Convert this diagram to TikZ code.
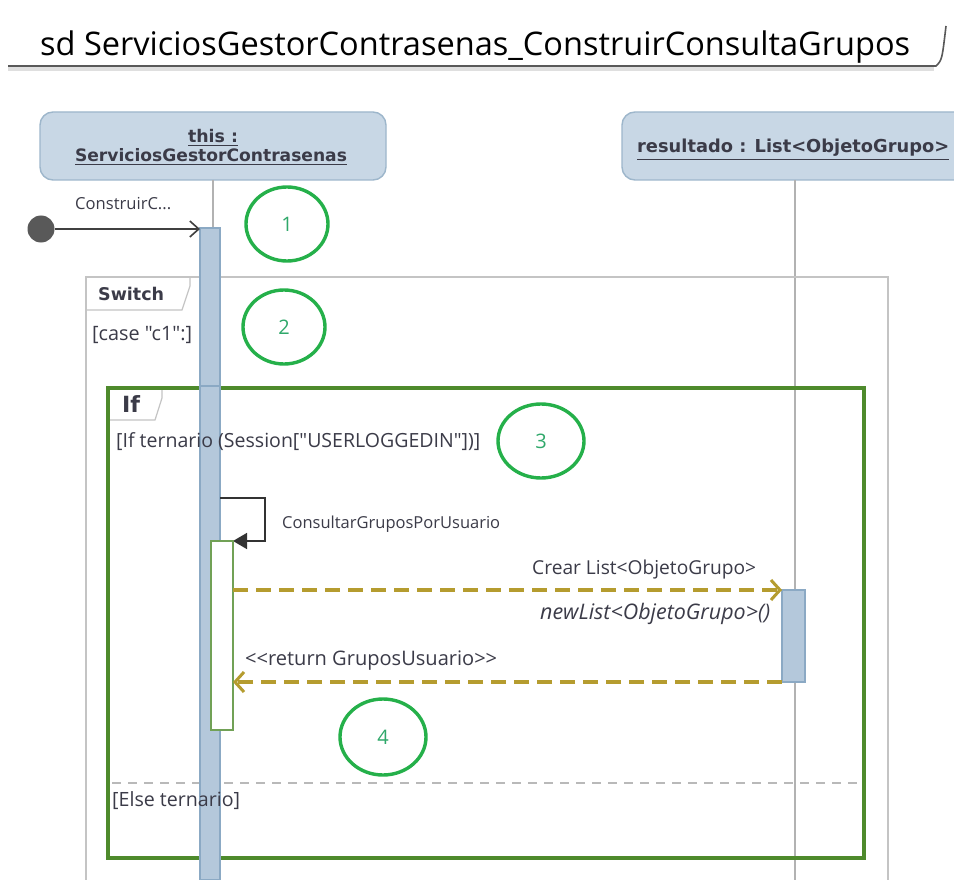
\documentclass[tikz,border=0pt]{standalone}
\usepackage{fontspec}
\setmainfont{Open Sans}[Ligatures=TeXOff]
\newfontfamily\headfont{DejaVu Sans}
\usetikzlibrary{arrows.meta,shapes.geometric}
\definecolor{headfill}{HTML}{C8D7E5}
\definecolor{headdraw}{HTML}{9DB6CB}
\definecolor{actfill}{HTML}{B4C8DB}
\definecolor{actdraw}{HTML}{8BA9C4}
\definecolor{ringgreen}{HTML}{25B04A}
\definecolor{numgreen}{HTML}{2FA86A}
\definecolor{framegreen}{HTML}{4E8A2C}
\definecolor{olive}{HTML}{B59C2F}
\definecolor{labelgray}{HTML}{3B3B48}
\definecolor{framegray}{HTML}{C4C4C4}
\newcommand{\fitw}[2]{\resizebox{#1}{!}{#2}}
\tikzset{
  lifehead/.style={draw=headdraw, line width=1.4pt, fill=headfill, rounded corners=13pt},
  lifeline/.style={draw=gray!60, line width=1.2pt},
  actbar/.style={draw=actdraw, fill=actfill, line width=1.2pt},
  ring/.style={draw=ringgreen, line width=3.4pt, ellipse, fill=white},
  ringnum/.style={text=numgreen, font=\fontsize{20}{20}\selectfont},
  msglabel/.style={text=labelgray, inner sep=0pt, anchor=base west},
  headlabel/.style={font=\headfont\bfseries, text=labelgray, inner sep=0pt},
  olivemsg/.style={draw=olive, line width=4pt, dash pattern=on 15pt off 8pt,
    -{Straight Barb[length=9pt,width=20pt,line width=3pt]}},
  frameline/.style={draw=framegray, line width=1.2pt},
}
\begin{document}
\begin{tikzpicture}[x=1pt,y=-1pt]
\useasboundingbox (0,0) rectangle (954,880);
\fill[white] (0,0) rectangle (954,880);

% diagram title tab
\node[anchor=base west, inner sep=0pt] (title) at (40,56)
  {\fitw{870pt}{\fontsize{30}{30}\selectfont sd ServiciosGestorContrasenas\_ConstruirConsultaGrupos}};
\draw[gray!25, line width=4pt] (8,69) -- (934,69);
\draw[gray!70!black, line width=1.6pt] (8,66) -- (936,66) .. controls (942,60) .. (946,26);

% lifeline heads
\draw[lifehead] (40,112) rectangle (386,180);
\node[headlabel, anchor=base] (thisname) at (213,143) {\fitw{50pt}{\underline{this :}}};
\node[headlabel, anchor=base] (thisclass) at (211,162) {\fitw{272pt}{\underline{ServiciosGestorContrasenas}}};
\draw[lifehead] (622,112) rectangle (990,180);
\node[headlabel, anchor=base west] (resname) at (637,153)
  {\fitw{312pt}{\underline{resultado : List<ObjetoGrupo>}}};

% lifelines
\coordinate (ll1top) at (213,180);
\coordinate (ll1bot) at (213,880);
\coordinate (ll2top) at (795,180);
\coordinate (ll2bot) at (795,880);
\draw[lifeline] (ll1top) -- (ll1bot);
\draw[lifeline] (ll2top) -- (ll2bot);

% switch combined fragment
\draw[frameline] (86,890) -- (86,277) -- (888,277) -- (888,890);
\draw[frameline] (86,310) -- (182,310) -- (190,286) -- (190,277);

% main activation
\draw[actbar] (200,228) rectangle (220,890);

\node[headlabel, anchor=base west] (switchlbl) at (98,300) {\fitw{66pt}{Switch}};
\node[msglabel] (case) at (92,340) {\fitw{100pt}{[case "c1":]}};

% found message
\node[circle, fill=black!65, minimum size=27pt, inner sep=0pt] (start) at (41,229) {};
\coordinate (act1in) at (200,229);
\draw[black!75, line width=1.6pt, -{Straight Barb[length=9pt,width=16pt,line width=1.6pt]}] (start) -- (act1in);
\node[msglabel] (found) at (75,210) {\fitw{96pt}{ConstruirC...}};

% if fragment
\draw[framegreen, line width=4pt] (108,388) rectangle (864,858);
\draw[framegray, line width=1.2pt] (110,420) -- (155,420) -- (162,398) -- (162,390);
\draw[gray!55, line width=2.4pt, dash pattern=on 9pt off 7pt] (112,783) -- (862,783);

% main activation crossing the frame
\draw[actbar] (200,386) rectangle (220,880);

\node[headlabel, anchor=base west] (iflbl) at (122,412) {\fitw{18pt}{If}};
\node[msglabel] (guard) at (116,447) {\fitw{364pt}{[If ternario (Session["USERLOGGEDIN"])]}};
\node[msglabel] (elseg) at (112,806) {\fitw{128pt}{[Else ternario]}};

% self call
\coordinate (selfa) at (220,498);
\coordinate (selfb) at (265,498);
\coordinate (selfc) at (265,541);
\coordinate (selfd) at (233,541);
\draw[black!80, line width=1.6pt, -{Triangle[length=14pt,width=16pt]}] (selfa) -- (selfb) -- (selfc) -- (selfd);
\node[msglabel] (selflbl) at (282,528) {\fitw{218pt}{ConsultarGruposPorUsuario}};

% nested activation
\draw[framegreen!80, fill=white, line width=1.6pt] (211,541) rectangle (233,730);

% target activation
\node[actbar, minimum width=23pt, minimum height=92pt, inner sep=0pt] (act2) at (793.5,636) {};

% create message
\coordinate (crfrom) at (233,590);
\coordinate (crto) at (782,590);
\draw[olivemsg] (crfrom) -- (crto);
\node[msglabel] (crlbl) at (532,574) {\fitw{224pt}{Crear List<ObjetoGrupo>}};
\node[msglabel] (newlbl) at (540,619) {\fitw{230pt}{\itshape newList<ObjetoGrupo>()}};

% return message
\coordinate (retfrom) at (782,682);
\coordinate (retto) at (233,682);
\draw[olivemsg] (retfrom) -- (retto);
\node[msglabel] (retlbl) at (245,665) {\fitw{252pt}{<<return GruposUsuario>>}};

% step markers
\node[ring, minimum width=82pt, minimum height=74pt] (m1) at (287,224) {};
\node[ringnum] at (m1) {1};
\node[ring, minimum width=82pt, minimum height=74pt] (m2) at (284,327) {};
\node[ringnum] at (m2) {2};
\node[ring, minimum width=86pt, minimum height=74pt] (m3) at (541,441) {};
\node[ringnum] at (m3) {3};
\node[ring, minimum width=86pt, minimum height=76pt] (m4) at (383,737) {};
\node[ringnum] at (m4) {4};
\end{tikzpicture}
\end{document}
